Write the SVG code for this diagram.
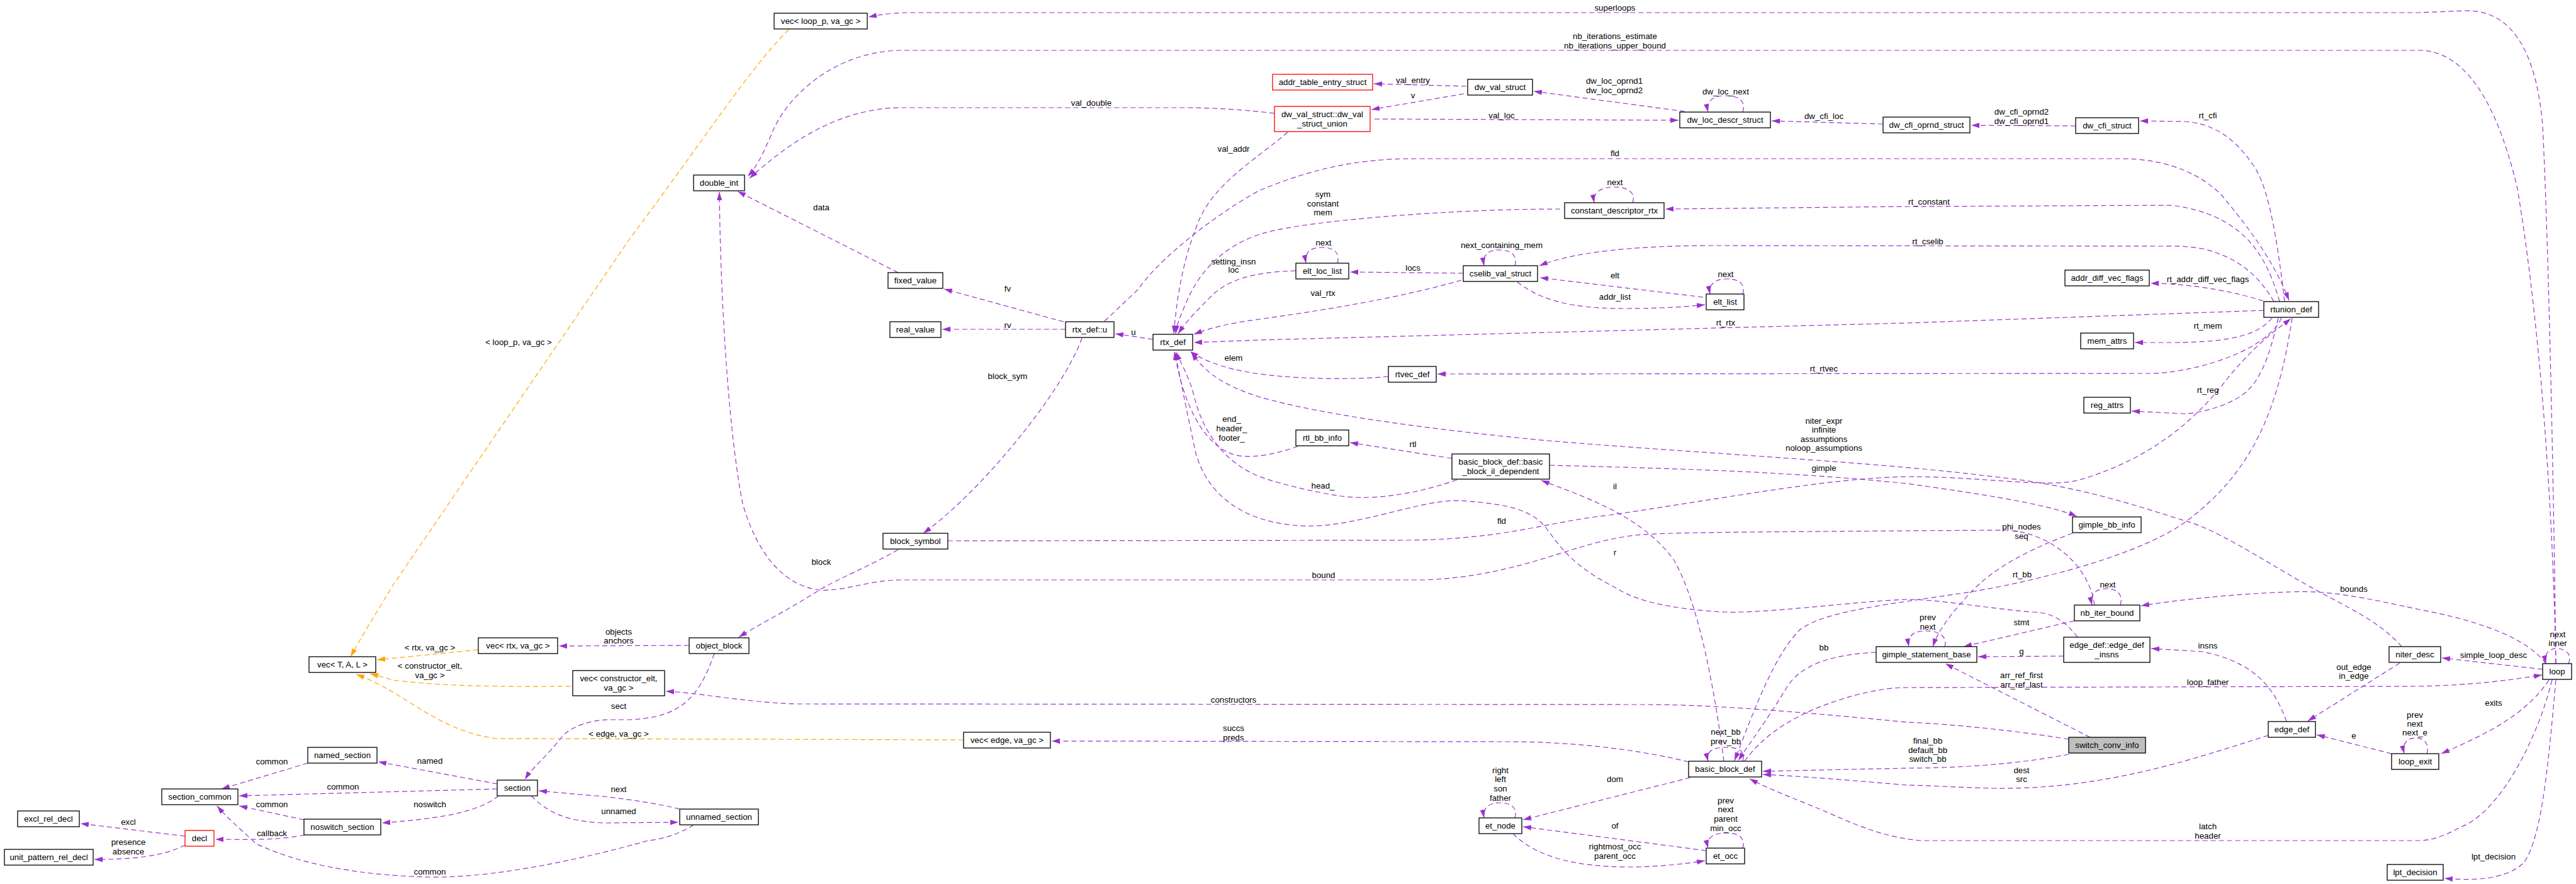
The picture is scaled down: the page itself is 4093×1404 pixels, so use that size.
<svg xmlns="http://www.w3.org/2000/svg" width="4093" height="1404" viewBox="0 0 4093 1404">
<defs>
<marker id="ap" viewBox="0 0 13 10" refX="13" refY="5" markerWidth="13" markerHeight="10" markerUnits="userSpaceOnUse" orient="auto"><path d="M0,0.8 L13,5 L0,9.2 z" fill="#9a32cd"/></marker>
<marker id="ao" viewBox="0 0 13 10" refX="13" refY="5" markerWidth="13" markerHeight="10" markerUnits="userSpaceOnUse" orient="auto"><path d="M0,0.8 L13,5 L0,9.2 z" fill="#ffa500"/></marker>
</defs>
<style>
text{font-family:"Liberation Sans",Arial,sans-serif;font-size:13.3px;text-anchor:middle;fill:#000}
.n rect{fill:#fff;stroke:#000;stroke-width:1.3}
.r rect{stroke:#ff0000}
.g rect{fill:#bfbfbf}
.e{fill:none;stroke:#9a32cd;stroke-width:1.2;stroke-dasharray:8,5;marker-end:url(#ap)}
.o{fill:none;stroke:#ffa500;stroke-width:1.2;stroke-dasharray:8,5;marker-end:url(#ao)}
</style>
<rect width="4093" height="1404" fill="#fff"/>
<g id="edges">
<path class="o" d="M1253,47 C1190,110 1120,220 1000,380 L624,930 C600,970 575,1010 557,1043"/>
<path class="o" d="M760,1032 L599,1048"/>
<path class="o" d="M907,1090 C800,1091 700,1090 624,1080 C610,1076 600,1073 588,1070"/>
<path class="o" d="M1531,1175 L788,1173 C730,1165 690,1140 650,1115 C610,1090 590,1080 566,1071"/>
<path class="e" d="M4061,1054 C4058,800 4050,400 4040,200 C4030,80 3990,17 3920,17 L3844,20 L1440,20 C1410,21 1395,24 1380,27"/>
<path class="e" d="M4061,1054 C4055,750 4030,480 4000,300 C3960,130 3900,80 3844,80 L1434,80 C1330,80 1250,150 1225,215 C1210,250 1200,268 1188,280"/>
<path class="e" d="M2025,180 C1960,172 1900,171 1887,171 L1434,171 C1330,171 1250,230 1191,283"/>
<path class="e" d="M2330,137 L2183,133"/>
<path class="e" d="M2326,149 L2179,174"/>
<path class="e" d="M2677,177 L2437,145"/>
<path class="e" d="M2769,178 C2775,160 2762,152 2742,152 C2722,152 2710,160 2714,178"/>
<path class="e" d="M2184,189 L2667,191"/>
<path class="e" d="M2992,197 L2815,192"/>
<path class="e" d="M3298,200 L3132,199"/>
<path class="e" d="M3630,479 C3615,350 3600,290 3580,262 C3555,225 3520,195 3470,193 L3400,192"/>
<path class="e" d="M1755,510 L1808,460 C1850,400 1950,330 2000,303 C2080,270 2150,252 2250,252 L3369,252 C3450,252 3500,280 3530,310 C3580,370 3615,420 3637,477"/>
<path class="e" d="M3622,479 C3600,400 3560,340 3450,326 L3030,328 L2646,332"/>
<path class="e" d="M2594,322 C2600,305 2585,297 2565,297 C2545,297 2530,305 2533,322"/>
<path class="e" d="M2479,332 C2300,332 2100,350 2030,365 C1960,378 1910,420 1885,480 C1876,500 1870,515 1868,530"/>
<path class="e" d="M2046,210 C2000,250 1930,290 1905,350 C1880,410 1870,470 1865,530"/>
<path class="e" d="M2059,430 C1990,432 1950,445 1925,470 C1900,495 1885,510 1872,530"/>
<path class="e" d="M2125,418 C2130,400 2118,393 2100,393 C2082,393 2072,401 2075,418"/>
<path class="e" d="M2325,434 L2145,432"/>
<path class="e" d="M2407,422 C2412,405 2400,397 2382,397 C2364,397 2355,405 2358,422"/>
<path class="e" d="M3613,479 C3590,440 3560,410 3500,395 C3470,390 3450,391 3437,391 L2723,390 C2600,390 2500,400 2446,422"/>
<path class="e" d="M2706,472 L2447,441"/>
<path class="e" d="M2769,467 C2774,450 2762,443 2744,443 C2726,443 2714,451 2717,467"/>
<path class="e" d="M2411,448 C2440,470 2480,490 2580,490 C2650,490 2690,486 2709,484"/>
<path class="e" d="M2322,445 C2200,480 2050,500 1980,510 C1940,516 1915,524 1897,531"/>
<path class="e" d="M3596,478 C3540,460 3470,450 3417,450"/>
<path class="e" d="M3597,493 L3030,513 L2000,540 L1897,544"/>
<path class="e" d="M3610,505 C3590,530 3550,544 3450,544 L3392,544"/>
<path class="e" d="M3620,505 C3605,570 3590,610 3559,630 C3530,648 3490,657 3470,657 L3387,653"/>
<path class="e" d="M3625,505 C3600,560 3480,593 3416,593 L2284,594"/>
<path class="e" d="M2206,598 C2150,603 2090,602 2040,598 C1990,594 1930,585 1891,558"/>
<path class="e" d="M1693,523 L1497,523"/>
<path class="e" d="M1690,511 L1500,459"/>
<path class="e" d="M1832,539 L1772,530"/>
<path class="e" d="M1427,433 L1172,304"/>
<path class="e" d="M1719,537 C1690,620 1560,780 1467,847"/>
<path class="e" d="M3328,961 C3320,900 3260,845 3186,842 L3030,843 C2800,845 2650,845 2600,850 C2500,860 2420,915 2263,921 L1434,921 C1380,921 1340,940 1302,937 C1240,930 1200,870 1180,800 C1160,700 1145,500 1143,305"/>
<path class="e" d="M1427,873 C1380,900 1330,920 1302,937 C1250,970 1200,995 1174,1012"/>
<path class="e" d="M1506,859 L2243,858 C2400,855 2450,830 2558,818 C2750,790 2900,760 3030,757 C3150,757 3250,775 3301,763 C3400,735 3480,680 3540,600 C3590,540 3620,522 3640,506"/>
<path class="e" d="M3642,505 C3620,650 3580,750 3471,830 C3400,880 3250,920 3132,940 C3000,960 2900,970 2860,1000 C2820,1040 2790,1120 2756,1208"/>
<path class="e" d="M2981,1036 C2900,1040 2860,1060 2840,1090 C2810,1140 2780,1180 2762,1208"/>
<path class="e" d="M2772,1209 C2800,1170 2850,1130 2952,1103 C2990,1094 3010,1092 3030,1092 L3844,1090 C3930,1088 3990,1080 4039,1072"/>
<path class="e" d="M2739,1209 C2725,1100 2700,960 2660,890 C2610,820 2520,790 2449,763"/>
<path class="e" d="M2307,728 L2145,703"/>
<path class="e" d="M2062,709 C2030,720 1990,730 1960,722 C1910,705 1880,640 1866,559"/>
<path class="e" d="M2315,762 C2250,785 2180,795 2131,788 C2090,782 2040,770 2010,760 C1950,740 1910,690 1895,620 C1885,590 1875,575 1869,559"/>
<path class="e" d="M3301,1012 C3280,985 3260,972 3227,972 C3150,965 3080,952 3030,952 C2950,955 2800,975 2740,972 C2660,968 2600,955 2570,935 C2500,900 2480,870 2460,843 C2440,815 2410,800 2315,795 C2250,795 2150,840 2066,835 C1980,830 1920,790 1900,720 C1885,650 1875,600 1867,559"/>
<path class="e" d="M3816,1027 C3780,985 3720,960 3667,930 C3580,880 3520,840 3471,827 C3400,805 3300,770 3166,757 C3000,735 2700,720 2460,700 C2300,685 2100,660 2000,630 C1960,617 1920,600 1893,560"/>
<path class="e" d="M2462,739 C2700,745 2850,750 3030,768 C3150,785 3250,800 3300,820"/>
<path class="e" d="M3293,847 C3230,870 3170,900 3132,940 C3100,975 3080,1000 3071,1027"/>
<path class="e" d="M3369,961 C3374,944 3364,935 3347,935 C3330,935 3320,944 3324,961"/>
<path class="e" d="M3296,986 L3120,1027"/>
<path class="e" d="M3279,1042 L3143,1043"/>
<path class="e" d="M3090,1027 C3095,1010 3080,1002 3060,1002 C3040,1002 3030,1010 3033,1027"/>
<path class="e" d="M3321,1171 L3091,1054"/>
<path class="e" d="M3633,1146 C3610,1080 3570,1050 3500,1035 L3418,1030"/>
<path class="e" d="M3813,1053 L3667,1145"/>
<path class="e" d="M4040,1063 L3880,1045"/>
<path class="e" d="M4081,1054 C4088,1038 4075,1030 4062,1030 C4050,1030 4042,1038 4045,1054"/>
<path class="e" d="M4045,1054 C4020,1020 3960,990 3844,968 C3760,950 3700,937 3640,940 C3560,943 3480,950 3402,962"/>
<path class="e" d="M3800,1197 L3681,1167"/>
<path class="e" d="M3856,1197 C3861,1180 3850,1172 3838,1172 C3826,1172 3816,1180 3820,1197"/>
<path class="e" d="M4050,1080 C4010,1140 3940,1170 3879,1197"/>
<path class="e" d="M4061,1080 C4050,1200 4040,1330 4010,1370 C3980,1400 3920,1398 3884,1395"/>
<path class="e" d="M4055,1080 C4030,1180 3970,1290 3911,1313 C3880,1330 3860,1335 3844,1335 L3050,1335 C3000,1330 2960,1315 2919,1297 C2870,1275 2820,1258 2780,1237"/>
<path class="e" d="M3287,1198 C3200,1215 3100,1220 3030,1220 L2801,1225"/>
<path class="e" d="M3287,1174 C3200,1160 3100,1150 3030,1147 C2800,1125 2700,1119 2611,1119 L1263,1118 C1180,1115 1110,1100 1058,1098"/>
<path class="e" d="M3604,1168 C3500,1200 3350,1255 3166,1252 C3100,1250 3050,1247 3030,1247 C2950,1240 2850,1232 2801,1230"/>
<path class="e" d="M2683,1210 C2600,1190 2500,1178 2394,1178 L1671,1177"/>
<path class="e" d="M2686,1235 L2420,1302"/>
<path class="e" d="M2407,1299 C2412,1282 2400,1275 2383,1275 C2366,1275 2355,1283 2358,1299"/>
<path class="e" d="M2711,1351 L2420,1313"/>
<path class="e" d="M2404,1324 C2440,1360 2500,1377 2591,1377 C2640,1377 2690,1370 2709,1367"/>
<path class="e" d="M2769,1347 C2774,1330 2762,1323 2742,1323 C2722,1323 2710,1331 2714,1347"/>
<path class="e" d="M2769,1209 C2774,1192 2762,1187 2742,1187 C2722,1187 2710,1193 2714,1209"/>
<path class="e" d="M1095,1025 L888,1026"/>
<path class="e" d="M1135,1038 C1110,1110 1080,1140 1000,1143 L970,1143 C930,1143 900,1160 893,1170 C870,1200 845,1220 834,1238"/>
<path class="e" d="M1080,1285 C1040,1275 1000,1270 960,1265 C920,1262 880,1258 856,1256"/>
<path class="e" d="M844,1264 C870,1290 900,1305 960,1307 L1078,1306"/>
<path class="e" d="M1102,1310 C1080,1325 1050,1333 1030,1335 C960,1355 800,1395 683,1393 C560,1390 470,1370 407,1340 C380,1315 360,1298 345,1280"/>
<path class="e" d="M790,1245 L601,1210"/>
<path class="e" d="M489,1212 L352,1253"/>
<path class="e" d="M790,1253 L380,1264"/>
<path class="e" d="M792,1264 C760,1290 700,1300 607,1307"/>
<path class="e" d="M483,1302 L380,1280"/>
<path class="e" d="M484,1326 C450,1333 420,1334 342,1333"/>
<path class="e" d="M294,1328 L128,1308"/>
<path class="e" d="M294,1342 C260,1360 210,1365 150,1365"/>
</g>
<g id="labels">
<text x="824" y="548">&lt; loop_p, va_gc &gt;</text>
<text x="683" y="1033">&lt; rtx, va_gc &gt;</text>
<text x="683" y="1062">&lt; constructor_elt,</text>
<text x="683" y="1077">va_gc &gt;</text>
<text x="983" y="1170">&lt; edge, va_gc &gt;</text>
<text x="2566" y="17">superloops</text>
<text x="2566" y="62">nb_iterations_estimate</text>
<text x="2566" y="77">nb_iterations_upper_bound</text>
<text x="1734" y="168">val_double</text>
<text x="2245" y="132">val_entry</text>
<text x="2245" y="156">v</text>
<text x="2565" y="133">dw_loc_oprnd1</text>
<text x="2565" y="148">dw_loc_oprnd2</text>
<text x="2742" y="150">dw_loc_next</text>
<text x="2386" y="188">val_loc</text>
<text x="2898" y="189">dw_cfi_loc</text>
<text x="3212" y="182">dw_cfi_oprnd2</text>
<text x="3212" y="197">dw_cfi_oprnd1</text>
<text x="3508" y="188">rt_cfi</text>
<text x="2566" y="248">fld</text>
<text x="3065" y="325">rt_constant</text>
<text x="2566" y="294">next</text>
<text x="2102" y="313">sym</text>
<text x="2102" y="328">constant</text>
<text x="2102" y="342">mem</text>
<text x="1960" y="241">val_addr</text>
<text x="1960" y="420">setting_insn</text>
<text x="1960" y="433">loc</text>
<text x="2103" y="390">next</text>
<text x="2245" y="430">locs</text>
<text x="2386" y="394">next_containing_mem</text>
<text x="3063" y="388">rt_cselib</text>
<text x="2566" y="442">elt</text>
<text x="2742" y="440">next</text>
<text x="2566" y="476">addr_list</text>
<text x="2102" y="470">val_rtx</text>
<text x="3508" y="448">rt_addr_diff_vec_flags</text>
<text x="2742" y="517">rt_rtx</text>
<text x="3508" y="522">rt_mem</text>
<text x="3508" y="624">rt_reg</text>
<text x="2898" y="590">rt_rtvec</text>
<text x="1960" y="573">elem</text>
<text x="1601" y="521">rv</text>
<text x="1601" y="463">fv</text>
<text x="1801" y="532">u</text>
<text x="1305" y="334">data</text>
<text x="1601" y="602">block_sym</text>
<text x="2103" y="918">bound</text>
<text x="1305" y="897">block</text>
<text x="2386" y="832">fld</text>
<text x="3213" y="917">rt_bb</text>
<text x="2898" y="1033">bb</text>
<text x="3508" y="1088">loop_father</text>
<text x="2566" y="777">il</text>
<text x="2245" y="710">rtl</text>
<text x="1957" y="670">end_</text>
<text x="1957" y="685">header_</text>
<text x="1957" y="700">footer_</text>
<text x="2102" y="776">head_</text>
<text x="2566" y="882">r</text>
<text x="2898" y="673">niter_expr</text>
<text x="2898" y="687">infinite</text>
<text x="2898" y="702">assumptions</text>
<text x="2898" y="716">noloop_assumptions</text>
<text x="2898" y="748">gimple</text>
<text x="3212" y="841">phi_nodes</text>
<text x="3212" y="856">seq</text>
<text x="3349" y="933">next</text>
<text x="3212" y="993">stmt</text>
<text x="3212" y="1039">g</text>
<text x="3063" y="985">prev</text>
<text x="3063" y="1000">next</text>
<text x="3212" y="1077">arr_ref_first</text>
<text x="3212" y="1092">arr_ref_last</text>
<text x="3508" y="1030">insns</text>
<text x="3740" y="1064">out_edge</text>
<text x="3740" y="1078">in_edge</text>
<text x="3962" y="1045">simple_loop_desc</text>
<text x="4064" y="1012">next</text>
<text x="4064" y="1026">inner</text>
<text x="3740" y="940">bounds</text>
<text x="3740" y="1173">e</text>
<text x="3837" y="1140">prev</text>
<text x="3837" y="1154">next</text>
<text x="3837" y="1168">next_e</text>
<text x="3962" y="1121">exits</text>
<text x="3962" y="1365">lpt_decision</text>
<text x="3508" y="1317">latch</text>
<text x="3508" y="1332">header</text>
<text x="3063" y="1181">final_bb</text>
<text x="3063" y="1196">default_bb</text>
<text x="3063" y="1210">switch_bb</text>
<text x="1960" y="1116">constructors</text>
<text x="3212" y="1228">dest</text>
<text x="3212" y="1242">src</text>
<text x="1960" y="1161">succs</text>
<text x="1960" y="1176">preds</text>
<text x="2566" y="1242">dom</text>
<text x="2384" y="1228">right</text>
<text x="2384" y="1242">left</text>
<text x="2384" y="1257">son</text>
<text x="2384" y="1272">father</text>
<text x="2566" y="1316">of</text>
<text x="2566" y="1349">rightmost_occ</text>
<text x="2566" y="1364">parent_occ</text>
<text x="2742" y="1276">prev</text>
<text x="2742" y="1290">next</text>
<text x="2742" y="1305">parent</text>
<text x="2742" y="1320">min_occ</text>
<text x="2742" y="1167">next_bb</text>
<text x="2742" y="1182">prev_bb</text>
<text x="983" y="1008">objects</text>
<text x="983" y="1022">anchors</text>
<text x="983" y="1126">sect</text>
<text x="983" y="1258">next</text>
<text x="983" y="1293">unnamed</text>
<text x="683" y="1389">common</text>
<text x="683" y="1213">named</text>
<text x="432" y="1214">common</text>
<text x="545" y="1254">common</text>
<text x="683" y="1282">noswitch</text>
<text x="432" y="1282">common</text>
<text x="432" y="1328">callback</text>
<text x="204" y="1310">excl</text>
<text x="204" y="1342">presence</text>
<text x="204" y="1357">absence</text>
</g>
<g id="n_vec_loop_p" class="n"><rect x="1230" y="21" width="148" height="25"/><text x="1304" y="38">vec&lt; loop_p, va_gc &gt;</text></g>
<g id="n_double_int" class="n"><rect x="1102" y="278" width="81" height="25"/><text x="1142.5" y="295">double_int</text></g>
<g id="n_fixed_value" class="n"><rect x="1411" y="433" width="87" height="25"/><text x="1454.5" y="450">fixed_value</text></g>
<g id="n_addr_table_entry_struct" class="n r"><rect x="2022" y="118" width="159" height="25"/><text x="2101.5" y="135">addr_table_entry_struct</text></g>
<g id="n_dw_val_struct" class="n"><rect x="2332" y="126" width="103" height="25"/><text x="2383.5" y="143">dw_val_struct</text></g>
<g id="n_dw_val_struct_union" class="n r"><rect x="2025" y="169" width="152" height="40"/><text x="2101" y="185.5">dw_val_struct::dw_val</text><text x="2101" y="200.5">_struct_union</text></g>
<g id="n_dw_loc_descr_struct" class="n"><rect x="2669" y="178" width="144" height="25"/><text x="2741" y="195">dw_loc_descr_struct</text></g>
<g id="n_dw_cfi_oprnd_struct" class="n"><rect x="2992" y="186" width="138" height="25"/><text x="3061" y="203">dw_cfi_oprnd_struct</text></g>
<g id="n_dw_cfi_struct" class="n"><rect x="3298" y="187" width="100" height="25"/><text x="3348" y="204">dw_cfi_struct</text></g>
<g id="n_constant_descriptor_rtx" class="n"><rect x="2486" y="322" width="158" height="25"/><text x="2565" y="339">constant_descriptor_rtx</text></g>
<g id="n_elt_loc_list" class="n"><rect x="2059" y="418" width="84" height="25"/><text x="2101" y="435">elt_loc_list</text></g>
<g id="n_cselib_val_struct" class="n"><rect x="2325" y="422" width="118" height="25"/><text x="2384" y="439">cselib_val_struct</text></g>
<g id="n_elt_list" class="n"><rect x="2711" y="467" width="60" height="25"/><text x="2741" y="484">elt_list</text></g>
<g id="n_addr_diff_vec_flags" class="n"><rect x="3281" y="429" width="134" height="25"/><text x="3348" y="446">addr_diff_vec_flags</text></g>
<g id="n_rtunion_def" class="n"><rect x="3597" y="479" width="87" height="25"/><text x="3640.5" y="496">rtunion_def</text></g>
<g id="n_real_value" class="n"><rect x="1414" y="511" width="81" height="25"/><text x="1454.5" y="528">real_value</text></g>
<g id="n_rtx_def_u" class="n"><rect x="1693" y="511" width="77" height="25"/><text x="1731.5" y="528">rtx_def::u</text></g>
<g id="n_rtx_def" class="n"><rect x="1832" y="531" width="63" height="25"/><text x="1863.5" y="548">rtx_def</text></g>
<g id="n_mem_attrs" class="n"><rect x="3306" y="529" width="84" height="25"/><text x="3348" y="546">mem_attrs</text></g>
<g id="n_rtvec_def" class="n"><rect x="2206" y="582" width="76" height="25"/><text x="2244" y="599">rtvec_def</text></g>
<g id="n_reg_attrs" class="n"><rect x="3311" y="631" width="74" height="25"/><text x="3348" y="648">reg_attrs</text></g>
<g id="n_rtl_bb_info" class="n"><rect x="2059" y="683" width="84" height="25"/><text x="2101" y="700">rtl_bb_info</text></g>
<g id="n_bb_il_dependent" class="n"><rect x="2307" y="721" width="155" height="40"/><text x="2384.5" y="737.5">basic_block_def::basic</text><text x="2384.5" y="752.5">_block_il_dependent</text></g>
<g id="n_block_symbol" class="n"><rect x="1403" y="847" width="103" height="25"/><text x="1454.5" y="864">block_symbol</text></g>
<g id="n_gimple_bb_info" class="n"><rect x="3293" y="821" width="109" height="25"/><text x="3347.5" y="838">gimple_bb_info</text></g>
<g id="n_nb_iter_bound" class="n"><rect x="3296" y="961" width="104" height="25"/><text x="3348" y="978">nb_iter_bound</text></g>
<g id="n_edge_def_insns" class="n"><rect x="3279" y="1012" width="137" height="40"/><text x="3347.5" y="1028.5">edge_def::edge_def</text><text x="3347.5" y="1043.5">_insns</text></g>
<g id="n_gimple_statement_base" class="n"><rect x="2981" y="1027" width="160" height="25"/><text x="3061" y="1044">gimple_statement_base</text></g>
<g id="n_niter_desc" class="n"><rect x="3796" y="1027" width="82" height="25"/><text x="3837" y="1044">niter_desc</text></g>
<g id="n_loop" class="n"><rect x="4040" y="1054" width="46" height="25"/><text x="4063" y="1071">loop</text></g>
<g id="n_object_block" class="n"><rect x="1095" y="1013" width="95" height="25"/><text x="1142.5" y="1030">object_block</text></g>
<g id="n_vec_rtx" class="n"><rect x="760" y="1013" width="126" height="25"/><text x="823" y="1030">vec&lt; rtx, va_gc &gt;</text></g>
<g id="n_vec_T_A_L" class="n"><rect x="491" y="1043" width="106" height="25"/><text x="544" y="1060">vec&lt; T, A, L &gt;</text></g>
<g id="n_vec_constructor_elt" class="n"><rect x="910" y="1065" width="146" height="40"/><text x="983" y="1081.5">vec&lt; constructor_elt,</text><text x="983" y="1096.5">va_gc &gt;</text></g>
<g id="n_edge_def" class="n"><rect x="3604" y="1146" width="75" height="25"/><text x="3641.5" y="1163">edge_def</text></g>
<g id="n_switch_conv_info" class="n g"><rect x="3287" y="1171" width="122" height="25"/><text x="3348" y="1188">switch_conv_info</text></g>
<g id="n_vec_edge" class="n"><rect x="1531" y="1163" width="138" height="25"/><text x="1600" y="1180">vec&lt; edge, va_gc &gt;</text></g>
<g id="n_named_section" class="n"><rect x="489" y="1187" width="110" height="25"/><text x="544" y="1204">named_section</text></g>
<g id="n_basic_block_def" class="n"><rect x="2683" y="1209" width="116" height="25"/><text x="2741" y="1226">basic_block_def</text></g>
<g id="n_section" class="n"><rect x="790" y="1239" width="64" height="25"/><text x="822" y="1256">section</text></g>
<g id="n_section_common" class="n"><rect x="257" y="1253" width="121" height="25"/><text x="317.5" y="1270">section_common</text></g>
<g id="n_loop_exit" class="n"><rect x="3800" y="1197" width="75" height="25"/><text x="3837.5" y="1214">loop_exit</text></g>
<g id="n_unnamed_section" class="n"><rect x="1080" y="1285" width="125" height="25"/><text x="1142.5" y="1302">unnamed_section</text></g>
<g id="n_noswitch_section" class="n"><rect x="483" y="1301" width="122" height="25"/><text x="544" y="1318">noswitch_section</text></g>
<g id="n_excl_rel_decl" class="n"><rect x="28" y="1288" width="98" height="25"/><text x="77" y="1305">excl_rel_decl</text></g>
<g id="n_et_node" class="n"><rect x="2350" y="1299" width="68" height="25"/><text x="2384" y="1316">et_node</text></g>
<g id="n_decl" class="n r"><rect x="294" y="1319" width="46" height="25"/><text x="317" y="1336">decl</text></g>
<g id="n_et_occ" class="n"><rect x="2711" y="1347" width="61" height="25"/><text x="2741.5" y="1364">et_occ</text></g>
<g id="n_unit_pattern_rel_decl" class="n"><rect x="7" y="1349" width="141" height="25"/><text x="77.5" y="1366">unit_pattern_rel_decl</text></g>
<g id="n_lpt_decision" class="n"><rect x="3793" y="1373" width="89" height="25"/><text x="3837.5" y="1390">lpt_decision</text></g>
</svg>
